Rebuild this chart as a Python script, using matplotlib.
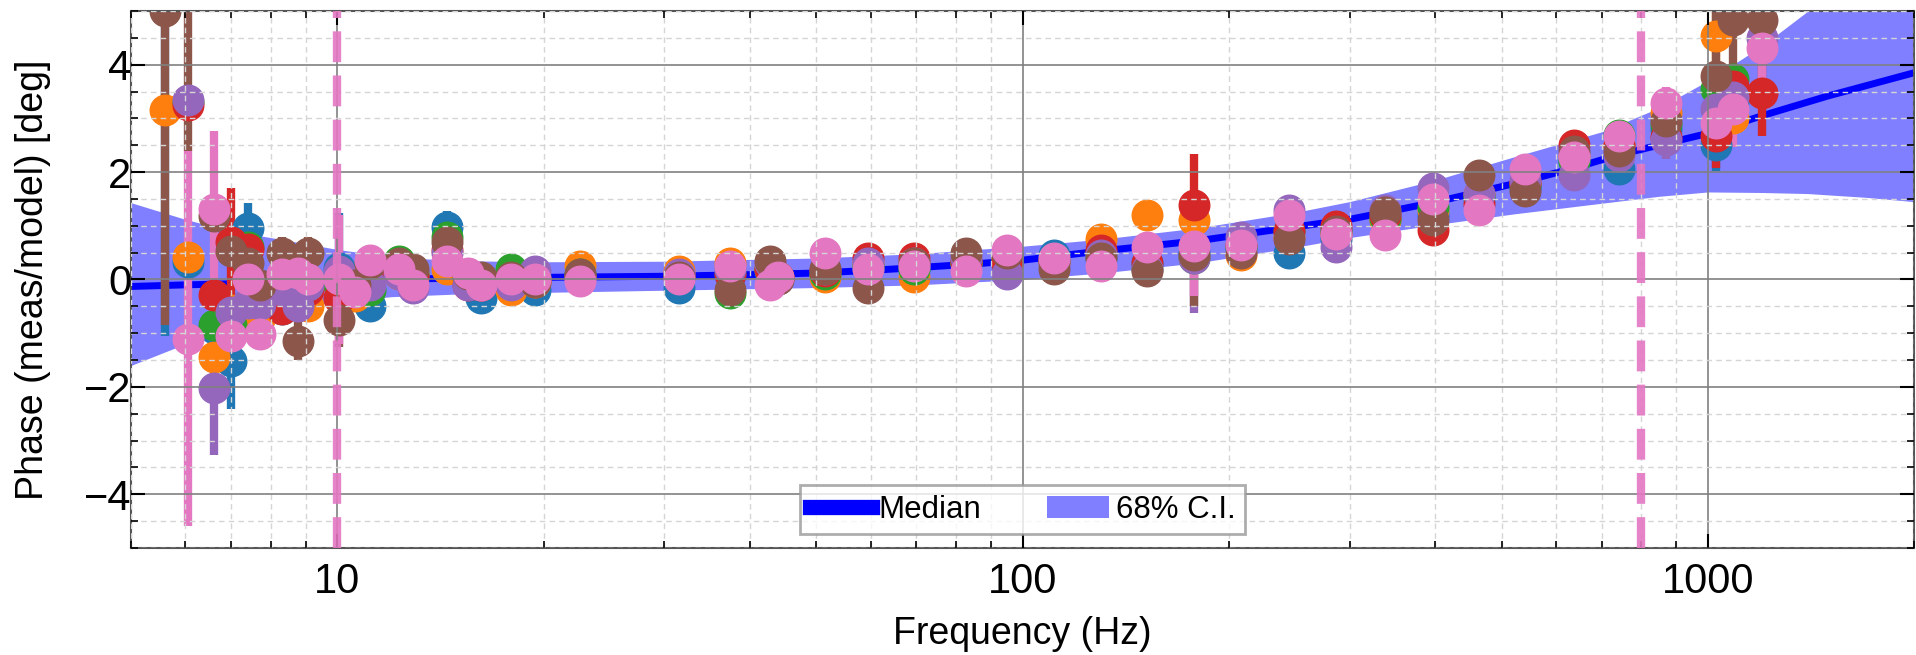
import matplotlib
matplotlib.use("Agg")
import matplotlib.pyplot as plt
from matplotlib.lines import Line2D
from matplotlib.patches import Patch
from matplotlib.ticker import MultipleLocator, FuncFormatter, LogLocator

plt.rcParams['font.family'] = ['Liberation Sans', 'DejaVu Sans']

# ---------------- data ----------------
freq = [5.6, 6.05, 6.6, 7.0, 7.4, 7.7, 8.3, 8.75, 9.05, 10.05, 10.6, 11.15, 12.3, 12.9,
        14.45, 15.5, 16.2, 17.9, 19.4, 22.6, 31.5, 37.4, 42.8, 44.0, 51.5, 59.4, 69.5,
        82.6, 95.0, 111, 130, 152, 178, 208, 245, 287, 338, 397, 464, 541, 637, 742,
        868, 1028, 1088, 1200]

blue_val = [5.5, 0.32, -0.9, -1.52, 0.96, -0.3, -0.55, -0.4, -0.1, 0.22, -0.1, -0.5, 0.2, 0.0,
            0.97, 0.0, -0.35, 0.05, -0.2, 0.05, -0.15, 0.1, 0.15, 0.0, 0.1, 0.2, 0.2,
            0.3, 0.3, 0.45, 0.4, 0.3, 0.5, 0.6, 0.5, 0.75, 1.1, 1.2, 1.5, 1.7, 2.2, 2.05,
            2.8, 2.5, 3.3, 5.3]
blue_err = [6.55, 0.1, 0.1, 0.9, 0.47, 0.1, 0.1, 0.1, 0.1, 1.02, 0.1, 0.1, 0.1, 0.1,
            0.3, 0.1, 0.1, 0.1, 0.1, 0.1, 0.1, 0.1, 0.1, 0.1, 0.1, 0.1, 0.1,
            0.1, 0.1, 0.1, 0.1, 0.1, 0.1, 0.1, 0.1, 0.1, 0.1, 0.1, 0.1, 0.1, 0.1, 0.1,
            0.1, 0.48, 0.1, 0.1]

orange_val = [3.15, 0.42, -1.45, -0.56, -0.75, -0.7, -0.3, -0.2, -0.5, -0.1, -0.3, 0.2, 0.1, 0.1,
              0.2, 0.05, -0.1, -0.2, -0.05, 0.25, 0.15, 0.3, 0.2, 0.0, 0.05, 0.3, 0.05,
              0.3, 0.4, 0.3, 0.75, 1.2, 1.1, 0.45, 0.8, 0.85, 1.1, 1.3, 1.6, 1.8, 2.3, 2.5,
              3.1, 4.53, 3.0, 5.5]
orange_err = [0.3, 0.1, 0.1, 0.1, 0.1, 0.1, 0.1, 0.1, 0.1, 0.1, 0.1, 0.1, 0.1, 0.1,
              0.1, 0.1, 0.1, 0.1, 0.1, 0.1, 0.1, 0.1, 0.1, 0.1, 0.1, 0.1, 0.1,
              0.1, 0.1, 0.1, 0.1, 0.15, 0.1, 0.1, 0.1, 0.1, 0.1, 0.1, 0.1, 0.1, 0.1, 0.1,
              0.1, 1.0, 0.1, 0.1]

green_val = [5.8, 3.3, -0.85, -0.84, 0.6, -0.2, 0.0, -0.1, 0.0, -0.1, -0.2, -0.2, 0.35, 0.1,
             0.8, 0.05, -0.05, 0.2, 0.05, 0.1, 0.05, -0.25, 0.2, 0.05, 0.1, 0.25, 0.2,
             0.3, 0.35, 0.35, 0.5, 0.2, 0.4, 0.6, 0.9, 0.9, 1.15, 1.35, 1.55, 1.75, 2.2, 2.7,
             2.9, 3.55, 3.73, 5.4]
green_err = [1.0, 0.1, 0.1, 0.1, 0.1, 0.1, 0.1, 0.1, 0.1, 0.1, 0.1, 0.1, 0.1, 0.1,
             0.1, 0.1, 0.1, 0.1, 0.1, 0.1, 0.1, 0.1, 0.1, 0.1, 0.1, 0.1, 0.1,
             0.1, 0.1, 0.1, 0.1, 0.1, 0.1, 0.1, 0.1, 0.1, 0.1, 0.1, 0.1, 0.1, 0.1, 0.1,
             0.1, 0.1, 0.1, 0.1]

red_val = [6.0, 3.25, -0.29, 0.7, 0.56, -0.4, -0.55, -0.3, -0.2, -0.35, -0.1, 0.1, 0.15, 0.05,
           0.55, -0.1, -0.1, 0.0, 0.0, 0.05, 0.05, 0.1, 0.2, 0.05, 0.15, 0.4, 0.4,
           0.35, 0.3, 0.35, 0.55, 0.3, 1.38, 0.65, 0.9, 1.0, 1.2, 0.93, 1.4, 1.8, 2.5, 2.5,
           2.65, 2.67, 3.6, 3.47]
red_err = [1.0, 0.1, 0.1, 1.0, 0.1, 0.1, 0.1, 0.1, 0.1, 0.1, 0.1, 0.1, 0.1, 0.1,
           0.1, 0.1, 0.1, 0.1, 0.1, 0.1, 0.1, 0.1, 0.1, 0.1, 0.1, 0.1, 0.1,
           0.1, 0.1, 0.1, 0.1, 0.1, 0.95, 0.1, 0.1, 0.1, 0.1, 0.1, 0.1, 0.1, 0.1, 0.1,
           0.1, 0.6, 0.1, 0.8]

purple_val = [6.2, 3.35, -2.02, -0.6, -0.43, -0.45, -0.2, -0.5, -0.1, 0.15, -0.1, -0.1, 0.1, -0.15,
              0.5, -0.1, -0.1, -0.1, 0.15, 0.05, 0.1, 0.2, 0.3, 0.0, 0.2, 0.3, 0.3,
              0.4, 0.1, 0.3, 0.45, 0.2, 0.4, 0.8, 1.3, 0.6, 1.3, 1.7, 1.6, 1.85, 1.95, 2.3,
              2.6, 3.17, 3.4, 4.5]
purple_err = [1.0, 0.1, 1.25, 0.1, 0.1, 0.1, 0.1, 0.1, 0.1, 0.1, 0.1, 0.1, 0.1, 0.1,
              0.1, 0.1, 0.1, 0.1, 0.1, 0.1, 0.1, 0.1, 0.1, 0.1, 0.1, 0.1, 0.1,
              0.1, 0.1, 0.1, 0.1, 0.1, 1.02, 0.1, 0.1, 0.1, 0.1, 0.1, 0.1, 0.1, 0.1, 0.1,
              0.36, 0.1, 0.1, 0.1]

brown_val = [5.0, 7.0, 1.18, 0.53, 0.3, -0.1, 0.5, -1.15, 0.5, -0.75, -0.1, 0.3, 0.3, 0.2,
             0.7, 0.1, 0.05, 0.05, -0.05, 0.1, 0.05, -0.2, 0.35, 0.0, 0.2, -0.15, 0.3,
             0.5, 0.5, 0.2, 0.4, 0.15, 0.45, 0.5, 0.75, 0.9, 1.25, 1.1, 1.95, 1.65, 2.4, 2.4,
             2.95, 3.79, 4.83, 4.84]
brown_err = [5.85, 4.6, 0.1, 0.1, 0.1, 0.1, 0.3, 0.35, 0.3, 0.5, 0.1, 0.1, 0.1, 0.1,
             0.1, 0.1, 0.1, 0.1, 0.1, 0.1, 0.1, 0.1, 0.1, 0.1, 0.1, 0.1, 0.1,
             0.1, 0.1, 0.1, 0.1, 0.1, 0.95, 0.1, 0.1, 0.1, 0.1, 0.1, 0.1, 0.1, 0.1, 0.1,
             0.1, 1.2, 0.85, 0.3]

pink_val = [6.5, -1.1, 1.32, -1.06, 0.0, -1.02, 0.1, 0.12, 0.0, 0.0, -0.23, 0.37, 0.2, -0.1,
            0.35, 0.12, -0.1, 0.0, 0.0, -0.03, 0.0, 0.25, -0.1, 0.05, 0.5, 0.2, 0.25,
            0.15, 0.55, 0.4, 0.25, 0.6, 0.63, 0.65, 1.2, 0.85, 0.82, 1.5, 1.3, 2.05, 2.28, 2.67,
            3.29, 2.92, 3.17, 4.32]
pink_err = [1.0, 3.5, 1.45, 0.1, 0.1, 0.1, 0.1, 0.1, 0.1, 1.2, 0.1, 0.1, 0.1, 0.1,
            0.1, 0.1, 0.1, 0.1, 0.1, 0.1, 0.1, 0.1, 0.1, 0.1, 0.1, 0.1, 0.1,
            0.1, 0.1, 0.1, 0.1, 0.1, 0.93, 0.1, 0.1, 0.1, 0.1, 0.1, 0.1, 0.1, 0.1, 0.1,
            0.3, 0.1, 0.7, 0.6]

series_colors = ['C0', 'C1', 'C2', 'C3', 'C4', 'C5', 'C6']
series_vals = [blue_val, orange_val, green_val, red_val, purple_val, brown_val, pink_val]
series_errs = [blue_err, orange_err, green_err, red_err, purple_err, brown_err, pink_err]

med_freq = [5, 6, 7, 8, 10, 12, 15, 20, 30, 40, 50, 60, 70, 85, 100, 130, 180, 250, 300,
            400, 540, 640, 740, 1000, 1200, 1500, 2000]
med_val = [-0.13, -0.1, -0.08, -0.04, -0.01, 0.01, 0.02, 0.04, 0.06, 0.09, 0.12, 0.17, 0.22,
           0.29, 0.36, 0.53, 0.72, 0.98, 1.12, 1.44, 1.83, 2.08, 2.32, 2.72, 3.05, 3.42, 3.85]

ci_freq = [5, 6, 7, 8, 10, 12, 15, 20, 30, 50, 70, 100, 130, 180, 250, 300, 400, 520, 700,
           850, 1000, 1200, 1400, 1700, 2000]
ci_upper = [1.43, 1.12, 0.9, 0.78, 0.56, 0.42, 0.35, 0.33, 0.34, 0.4, 0.48, 0.62, 0.75, 0.96,
            1.25, 1.45, 1.85, 2.28, 2.75, 3.2, 3.7, 4.35, 5.0, 5.8, 6.6]
ci_lower = [-1.6, -1.2, -0.85, -0.58, -0.42, -0.32, -0.27, -0.24, -0.2, -0.15, -0.1, 0.0, 0.12,
            0.31, 0.6, 0.78, 1.02, 1.22, 1.42, 1.55, 1.63, 1.62, 1.6, 1.53, 1.45]

vline_freqs = [10, 800]

# ---------------- plot ----------------
fig = plt.figure(figsize=(19.16, 6.55), dpi=100)
ax = fig.add_axes([0.0684, 0.1634, 0.9306, 0.8198])

ax.fill_between(ci_freq, ci_lower, ci_upper, color='blue', alpha=0.5, lw=0, zorder=1.5)
ax.plot(med_freq, med_val, color='blue', lw=5, zorder=1.6)

for c, v, e in zip(series_colors, series_vals, series_errs):
    ax.errorbar(freq, v, yerr=e, fmt='o', ms=22, elinewidth=6, capsize=0, color=c, zorder=2)

for fv in vline_freqs:
    ax.axvline(fv, color='C6', ls='--', lw=6, alpha=0.9, zorder=2.6)

ax.set_xscale('log')
ax.set_xlim(5, 2000)
ax.set_ylim(-5, 5)
ax.yaxis.set_major_locator(MultipleLocator(2))
ax.yaxis.set_minor_locator(MultipleLocator(0.5))
ax.xaxis.set_major_formatter(FuncFormatter(lambda v, p: f'{v:g}'))
ax.xaxis.set_minor_locator(LogLocator(base=10, subs=range(2, 10)))

ax.set_axisbelow(False)
ax.grid(which='major', color='#808080', ls='-', lw=1.2)
ax.grid(which='minor', color='#d5d5d5', ls=(0, (4, 3)), lw=1.0)

ax.tick_params(which='both', direction='in', top=True, right=True, labelsize=30)
ax.tick_params(axis='x', which='both', pad=10)
ax.tick_params(axis='y', which='both', pad=0)
ax.tick_params(which='major', length=10, width=1.5)
ax.tick_params(which='minor', length=5, width=1.2)
for s in ax.spines.values():
    s.set_linewidth(1.5)
    s.set_color('#555555')

ax.set_xlabel('Frequency (Hz)', fontsize=27, va='center')
ax.set_ylabel('Phase (meas/model) [deg]', fontsize=27, va='center')
ax.xaxis.set_label_coords(0.5, -0.160)
ax.yaxis.set_label_coords(-0.055, 0.5)

handles = [Line2D([], [], color='blue', lw=11), Patch(facecolor='blue', alpha=0.5, lw=0)]
leg = ax.legend(handles, ['Median', '68% C.I.'], loc='lower center', ncol=2, fontsize=22.5,
                fancybox=False, edgecolor='#999999', columnspacing=2.1, borderaxespad=0.45,
                handlelength=2.0, handletextpad=0.2, borderpad=0.3)
leg.get_frame().set_linewidth(2)

fig.savefig('out.png', dpi=100)
